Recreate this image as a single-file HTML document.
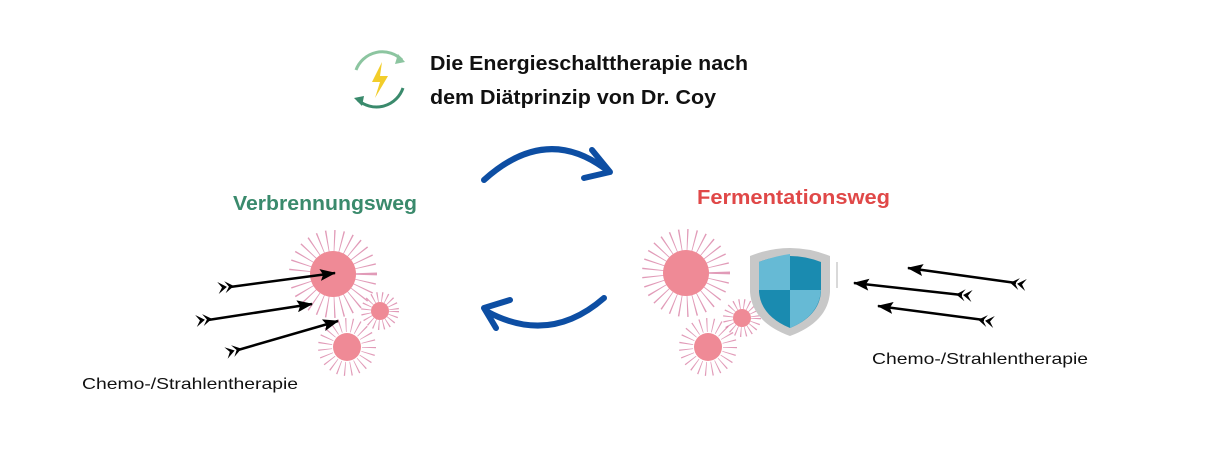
<!DOCTYPE html>
<html><head><meta charset="utf-8"><style>
body{margin:0;background:#fff;width:1212px;height:460px;overflow:hidden}
svg{display:block}
text{font-family:"Liberation Sans",sans-serif}
</style></head><body>
<svg width="1212" height="460" viewBox="0 0 1212 460">
<defs>
<marker id="ah" markerWidth="16" markerHeight="12" refX="15" refY="6" orient="auto" markerUnits="userSpaceOnUse"><path d="M0,0 L16,6 L0,12 L3,6 Z" fill="#000"/></marker>
<g id="fl"><path d="M0,-6 L9,0 L0,6 L4,0 Z" fill="#000"/><path d="M7,-6 L16,0 L7,6 L11,0 Z" fill="#000"/></g>
</defs>
<!-- icon -->
<path d="M356,70 A28,28 0 0 1 402,60" fill="none" stroke="#8cc5a0" stroke-width="3"/>
<path d="M403,88 A28,28 0 0 1 358,100" fill="none" stroke="#3a8a6c" stroke-width="3"/>
<path d="M398,54 L405,62 L395,64 Z" fill="#8cc5a0"/>
<path d="M362,106 L354,98 L364,96 Z" fill="#3a8a6c"/>
<path d="M382,62 L372,82 L380,82 L375,98 L388,76 L380,76 Z" fill="#f2cd2a"/>
<text x="430" y="70" font-size="20" font-weight="bold" fill="#111" textLength="318" lengthAdjust="spacingAndGlyphs">Die Energieschalttherapie nach</text>
<text x="430" y="104" font-size="20" font-weight="bold" fill="#111" textLength="286" lengthAdjust="spacingAndGlyphs">dem Diätprinzip von Dr. Coy</text>
<!-- cycle arrows -->
<path d="M484,180 Q545,125 604,168" fill="none" stroke="#0d4ea3" stroke-width="6" stroke-linecap="round"/>
<path d="M592,150 L610,172 L584,178" fill="none" stroke="#0d4ea3" stroke-width="6" stroke-linecap="round" stroke-linejoin="round"/>
<path d="M604,298 Q550,345 488,312" fill="none" stroke="#0d4ea3" stroke-width="6" stroke-linecap="round"/>
<path d="M510,300 L484,308 L496,328" fill="none" stroke="#0d4ea3" stroke-width="6" stroke-linecap="round" stroke-linejoin="round"/>
<text x="233" y="210" font-size="20" font-weight="bold" fill="#3a8a6c" textLength="184" lengthAdjust="spacingAndGlyphs">Verbrennungsweg</text>
<text x="697" y="204" font-size="20" font-weight="bold" fill="#e04848" textLength="193" lengthAdjust="spacingAndGlyphs">Fermentationsweg</text>
<!-- cells -->
<g fill="#ef8a96" stroke="#d77aa0">
<circle cx="333" cy="274" r="33" fill="none" stroke-width="22" stroke-dasharray="1.1 6" opacity=".75"/>
<circle cx="333" cy="274" r="23" stroke="none"/>
<circle cx="380" cy="311" r="14" fill="none" stroke-width="10" stroke-dasharray="1 3.5" opacity=".75"/>
<circle cx="380" cy="311" r="9" stroke="none"/>
<circle cx="347" cy="347" r="22" fill="none" stroke-width="14" stroke-dasharray="1 5" opacity=".75"/>
<circle cx="347" cy="347" r="14" stroke="none"/>
<circle cx="686" cy="273" r="33" fill="none" stroke-width="22" stroke-dasharray="1.1 6" opacity=".75"/>
<circle cx="686" cy="273" r="23" stroke="none"/>
<circle cx="742" cy="318" r="14" fill="none" stroke-width="10" stroke-dasharray="1 3.5" opacity=".75"/>
<circle cx="742" cy="318" r="9" stroke="none"/>
<circle cx="708" cy="347" r="22" fill="none" stroke-width="14" stroke-dasharray="1 5" opacity=".75"/>
<circle cx="708" cy="347" r="14" stroke="none"/>
</g>
<!-- shield -->
<path d="M750,256 Q790,240 830,256 L830,292 Q828,322 790,336 Q752,322 750,292 Z" fill="#c8c8c8"/>
<path d="M759,262 Q790,250 821,262 L821,292 Q819,316 790,328 Q761,316 759,292 Z" fill="#1a8bb0"/>
<path d="M759,262 Q775,256 790,254 L790,290 L759,290 Z" fill="#66bad5"/>
<path d="M790,290 L821,290 Q819,316 790,328 Z" fill="#66bad5"/>
<line x1="837" y1="262" x2="837" y2="288" stroke="#ccc" stroke-width="1.5"/>
<!-- arrows -->
<g stroke="#000" stroke-width="2.5">
<line x1="230" y1="287" x2="335" y2="273" marker-end="url(#ah)"/>
<line x1="208" y1="320" x2="312" y2="304" marker-end="url(#ah)"/>
<line x1="238" y1="350" x2="338" y2="321" marker-end="url(#ah)"/>
<line x1="1016" y1="283" x2="908" y2="268" marker-end="url(#ah)"/>
<line x1="962" y1="295" x2="854" y2="283" marker-end="url(#ah)"/>
<line x1="984" y1="320" x2="878" y2="306" marker-end="url(#ah)"/>
</g>
<use href="#fl" transform="translate(218,288) rotate(-7)"/>
<use href="#fl" transform="translate(196,321) rotate(-8)"/>
<use href="#fl" transform="translate(226,353) rotate(-16)"/>
<use href="#fl" transform="translate(1026,285) rotate(188)"/>
<use href="#fl" transform="translate(972,296) rotate(186)"/>
<use href="#fl" transform="translate(994,322) rotate(188)"/>
<text x="82" y="389" font-size="16" fill="#111" textLength="216" lengthAdjust="spacingAndGlyphs">Chemo-/Strahlentherapie</text>
<text x="872" y="364" font-size="16" fill="#111" textLength="216" lengthAdjust="spacingAndGlyphs">Chemo-/Strahlentherapie</text>
</svg>
</body></html>
